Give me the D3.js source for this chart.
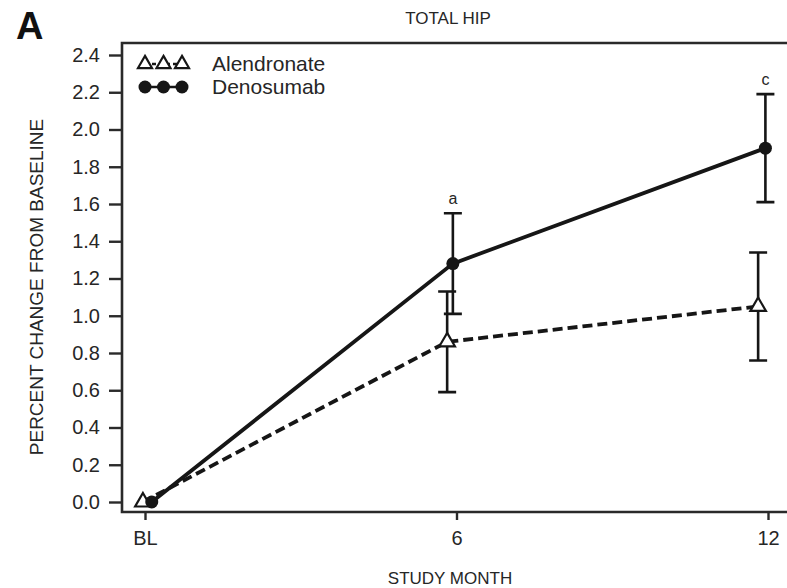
<!DOCTYPE html>
<html>
<head>
<meta charset="utf-8">
<script src="https://cdn.jsdelivr.net/npm/d3@7"></script>
<style>
  html, body { margin: 0; padding: 0; background: #fff; }
  svg { display: block; font-family: "Liberation Sans", Arial, Helvetica, sans-serif; }
</style>
</head>
<body>
<svg id="chart" width="787" height="588"></svg>
<script>
// Study visits and tick labels
const visitMonths = [0, 6, 12];
const visitLabels = ["BL", "6", "12"];
const yTicks = [0, 0.2, 0.4, 0.6, 0.8, 1.0, 1.2, 1.4, 1.6, 1.8, 2.0, 2.2, 2.4];

// Alendronate: plotted month, mean % change, error half-width
const alendronateMonth = [-0.04, 5.82, 11.81];
const alendronateMean = [0.0, 0.86, 1.05];
const alendronateErr = [0, 0.27, 0.29];

// Denosumab: plotted month, mean % change, error half-width, significance letter
const denosumabMonth = [0.13, 5.93, 11.95];
const denosumabMean = [0.0, 1.28, 1.90];
const denosumabErr = [0, 0.27, 0.29];
const denosumabSig = ["", "a", "c"];

const svg = d3.select("#chart");
const ink = "#161616";
const textInk = "#262626";

// Plot frame and scales
const frame = { left: 122, right: 800, top: 43, bottom: 512 };
const x = d3.scaleLinear().domain([0, 12]).range([145, 768]);
const y = d3.scaleLinear().domain([0, 2.4]).range([502, 55]);

// Frame: top, left and bottom edges (right edge falls outside the page)
svg.append("path")
  .attr("d", `M${frame.right},${frame.top}H${frame.left}V${frame.bottom}H${frame.right}`)
  .attr("fill", "none").attr("stroke", "#2a2a2a").attr("stroke-width", 2.6);

// Y axis
const yAxis = d3.axisLeft(y).tickValues(yTicks).tickFormat(d3.format(".1f"))
  .tickSize(13).tickPadding(9);
const gy = svg.append("g").attr("transform", `translate(${frame.left},0)`).call(yAxis);
gy.select(".domain").remove();
gy.selectAll(".tick line").attr("stroke", "#2a2a2a").attr("stroke-width", 2.4);
gy.selectAll(".tick text").attr("font-size", 20).attr("fill", textInk)
  .attr("font-family", "'Liberation Sans', Arial, sans-serif");

// X axis
const xAxis = d3.axisBottom(x).tickValues(visitMonths)
  .tickFormat((d, i) => visitLabels[i]).tickSize(8).tickPadding(11);
const gx = svg.append("g").attr("transform", `translate(0,${frame.bottom})`).call(xAxis);
gx.select(".domain").remove();
gx.selectAll(".tick line").attr("stroke", "#2a2a2a").attr("stroke-width", 2.4);
gx.selectAll(".tick text").attr("font-size", 20).attr("fill", textInk)
  .attr("font-family", "'Liberation Sans', Arial, sans-serif");

// Titles and axis labels
svg.append("text").attr("x", 16).attr("y", 39).text("A")
  .attr("font-size", 38).attr("font-weight", "bold").attr("fill", "#111");
svg.append("text").attr("x", 448).attr("y", 24).attr("text-anchor", "middle")
  .attr("font-size", 17).attr("fill", textInk).text("TOTAL HIP");
svg.append("text").attr("x", 450).attr("y", 584).attr("text-anchor", "middle")
  .attr("font-size", 17).attr("fill", textInk).text("STUDY MONTH");
svg.append("text")
  .attr("transform", "translate(43,287) rotate(-90)")
  .attr("text-anchor", "middle").attr("font-size", 19).attr("fill", textInk)
  .text("PERCENT CHANGE FROM BASELINE");

// Series data rows
const alen = alendronateMonth.map((m, i) => ({ m, v: alendronateMean[i], e: alendronateErr[i] }));
const deno = denosumabMonth.map((m, i) => ({ m, v: denosumabMean[i], e: denosumabErr[i], s: denosumabSig[i] }));

const line = d3.line().x(d => x(d.m)).y(d => y(d.v));

function errorBars(rows, cls) {
  const g = svg.append("g").attr("class", cls)
    .attr("stroke", ink).attr("stroke-width", 2.6).attr("fill", "none");
  rows.filter(d => d.e > 0).forEach(d => {
    const cx = x(d.m), top = y(d.v + d.e), bot = y(d.v - d.e), cap = 9;
    g.append("path").attr("d",
      `M${cx},${top}V${bot}M${cx - cap},${top}H${cx + cap}M${cx - cap},${bot}H${cx + cap}`);
  });
}

// Error bars
errorBars(alen, "err-alendronate");
errorBars(deno, "err-denosumab");

// Lines
svg.append("path").datum(alen).attr("d", line)
  .attr("fill", "none").attr("stroke", ink).attr("stroke-width", 3.8)
  .attr("stroke-dasharray", "10,5");
svg.append("path").datum(deno).attr("d", line)
  .attr("fill", "none").attr("stroke", ink).attr("stroke-width", 3.8);

// Markers
const tri = d3.symbol().type(d3.symbolTriangle).size(105);
const triLegend = d3.symbol().type(d3.symbolTriangle).size(85);
svg.append("g").selectAll("path").data(alen).join("path")
  .attr("transform", d => `translate(${x(d.m)},${y(d.v)})`)
  .attr("d", tri).attr("fill", "#fff").attr("stroke", ink).attr("stroke-width", 2.2);
svg.append("g").selectAll("circle").data(deno).join("circle")
  .attr("cx", d => x(d.m)).attr("cy", d => y(d.v)).attr("r", 6.5).attr("fill", ink);

// Significance letters
svg.append("g").selectAll("text").data(deno.filter(d => d.s)).join("text")
  .attr("x", d => x(d.m)).attr("y", d => y(d.v + d.e) - 9)
  .attr("text-anchor", "middle").attr("font-size", 16).attr("fill", textInk)
  .text(d => d.s);

// Legend
const legend = [
  { name: "Alendronate", dashed: true, y: 64 },
  { name: "Denosumab", dashed: false, y: 87 }
];
const legendXs = [145, 163.5, 182];
legend.forEach(L => {
  const g = svg.append("g");
  g.append("line").attr("x1", legendXs[0]).attr("x2", legendXs[2])
    .attr("y1", L.y).attr("y2", L.y).attr("stroke", ink).attr("stroke-width", 2.4)
    .attr("stroke-dasharray", L.dashed ? "4,3" : null);
  legendXs.forEach(lx => {
    if (L.dashed) {
      g.append("path").attr("transform", `translate(${lx},${L.y})`)
        .attr("d", triLegend).attr("fill", "#fff").attr("stroke", ink).attr("stroke-width", 2.2);
    } else {
      g.append("circle").attr("cx", lx).attr("cy", L.y).attr("r", 6.5).attr("fill", ink);
    }
  });
  g.append("text").attr("x", 212).attr("y", L.y + 7).attr("font-size", 21)
    .attr("fill", textInk).text(L.name);
});
</script>
</body>
</html>
